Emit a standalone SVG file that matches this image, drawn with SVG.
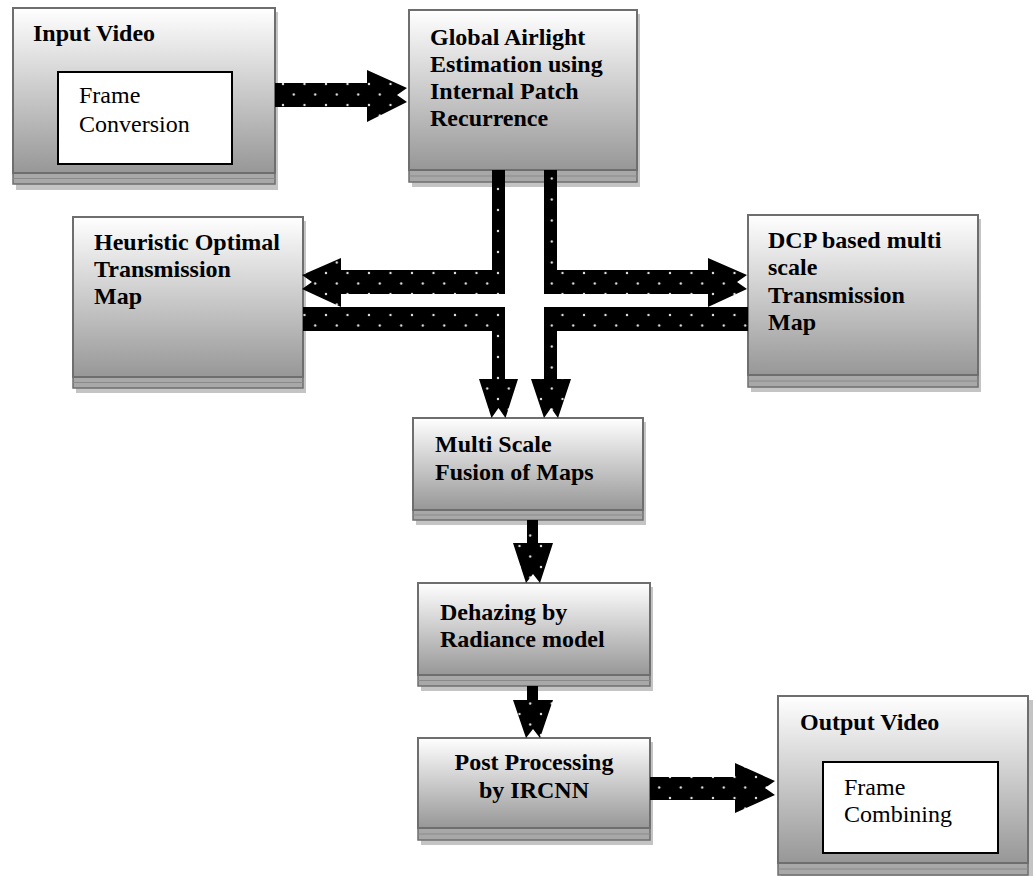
<svg xmlns="http://www.w3.org/2000/svg" width="1033" height="876" viewBox="0 0 1033 876">
<defs>
<linearGradient id="g" x1="0" y1="0" x2="0" y2="1">
<stop offset="0" stop-color="#ffffff"/>
<stop offset="1" stop-color="#979797"/>
</linearGradient>
<pattern id="dots" patternUnits="userSpaceOnUse" width="21.5" height="21" x="283" y="84">
<rect width="21.5" height="21" fill="#000"/>
<circle cx="0" cy="0" r="1.2" fill="#ddd"/>
<circle cx="21.5" cy="0" r="1.2" fill="#ddd"/>
<circle cx="0" cy="21" r="1.2" fill="#ddd"/>
<circle cx="21.5" cy="21" r="1.2" fill="#ddd"/>
<circle cx="10.75" cy="10.5" r="1.2" fill="#ddd"/>
</pattern>
</defs>
<style>
.main{fill:url(#g);stroke:#6e6e6e;stroke-width:2}
.strip{fill:#a8a8a8;stroke:#6e6e6e;stroke-width:1.5}
.shadow{fill:#c4c4c4}
.inner{fill:#fff;stroke:#000;stroke-width:2}
.b{font-family:"Liberation Serif","Times New Roman",serif;font-weight:bold;font-size:24px;fill:#000}
.r{font-family:"Liberation Serif","Times New Roman",serif;font-size:24px;fill:#000}
.arr{fill:url(#dots);stroke:none}
</style>
<rect width="1033" height="876" fill="#fff"/>

<g id="input-video">
<rect class="shadow" x="16" y="12" width="262" height="178"/>
<rect class="strip" x="13" y="173" width="262" height="11"/>
<line x1="13" y1="178.5" x2="275" y2="178.5" stroke="#8a8a8a" stroke-width="1"/>
<rect class="main" x="13" y="8" width="262" height="165"/>
<text class="b" x="33" y="41">Input Video</text>
<rect class="inner" x="58" y="72" width="174" height="92"/>
<text class="r" x="79" y="103">Frame</text>
<text class="r" x="79" y="132">Conversion</text>
</g>

<g id="global-airlight">
<rect class="shadow" x="412" y="14" width="228" height="173"/>
<rect class="strip" x="409" y="170" width="228" height="12"/>
<line x1="409" y1="176" x2="637" y2="176" stroke="#8a8a8a" stroke-width="1"/>
<rect class="main" x="409" y="10" width="228" height="160"/>
<text class="b" x="430" y="45">Global Airlight</text>
<text class="b" x="430" y="72">Estimation using</text>
<text class="b" x="430" y="99">Internal Patch</text>
<text class="b" x="430" y="126">Recurrence</text>
</g>

<g id="heuristic">
<rect class="shadow" x="76" y="221" width="230" height="172"/>
<rect class="strip" x="73" y="377" width="230" height="11"/>
<line x1="73" y1="382.5" x2="303" y2="382.5" stroke="#8a8a8a" stroke-width="1"/>
<rect class="main" x="73" y="217" width="230" height="160"/>
<text class="b" x="94" y="250">Heuristic Optimal</text>
<text class="b" x="94" y="277">Transmission</text>
<text class="b" x="94" y="304">Map</text>
</g>

<g id="dcp">
<rect class="shadow" x="751" y="219" width="230" height="173"/>
<rect class="strip" x="748" y="375" width="230" height="12"/>
<line x1="748" y1="381" x2="978" y2="381" stroke="#8a8a8a" stroke-width="1"/>
<rect class="main" x="748" y="215" width="230" height="160"/>
<text class="b" x="768" y="248">DCP based multi</text>
<text class="b" x="768" y="275">scale</text>
<text class="b" x="768" y="303">Transmission</text>
<text class="b" x="768" y="330">Map</text>
</g>

<g id="fusion">
<rect class="shadow" x="416" y="422" width="230" height="103"/>
<rect class="strip" x="413" y="510" width="230" height="10"/>
<line x1="413" y1="515" x2="643" y2="515" stroke="#8a8a8a" stroke-width="1"/>
<rect class="main" x="413" y="418" width="230" height="92"/>
<text class="b" x="435" y="452">Multi Scale</text>
<text class="b" x="435" y="480">Fusion of Maps</text>
</g>

<g id="dehazing">
<rect class="shadow" x="421" y="587" width="232" height="104"/>
<rect class="strip" x="418" y="675" width="232" height="11"/>
<line x1="418" y1="680.5" x2="650" y2="680.5" stroke="#8a8a8a" stroke-width="1"/>
<rect class="main" x="418" y="583" width="232" height="92"/>
<text class="b" x="440" y="620">Dehazing by</text>
<text class="b" x="440" y="647">Radiance model</text>
</g>

<g id="post-processing">
<rect class="shadow" x="421" y="742" width="232" height="103"/>
<rect class="strip" x="418" y="828" width="232" height="12"/>
<line x1="418" y1="834" x2="650" y2="834" stroke="#8a8a8a" stroke-width="1"/>
<rect class="main" x="418" y="738" width="232" height="90"/>
<text class="b" x="534" y="770" text-anchor="middle">Post Processing</text>
<text class="b" x="534" y="798" text-anchor="middle">by IRCNN</text>
</g>

<g id="output-video">
<rect class="shadow" x="781" y="700" width="252" height="176"/>
<rect class="strip" x="778" y="863" width="250" height="12"/>
<line x1="778" y1="869" x2="1028" y2="869" stroke="#8a8a8a" stroke-width="1"/>
<rect class="main" x="778" y="696" width="250" height="167"/>
<text class="b" x="800" y="730">Output Video</text>
<rect class="inner" x="823" y="762" width="175" height="91"/>
<text class="r" x="844" y="795">Frame</text>
<text class="r" x="844" y="822">Combining</text>
</g>

<g id="connectors">
<!-- Input -> Global -->
<polygon class="arr" points="275,83 367,83 367,70 407,88 397,95 407,102 367,122 367,107 275,107"/>
<!-- Global -> Heuristic -->
<polygon class="arr" points="492,170 505,170 505,294 341,294 341,307 302,289 312,282 302,275 341,258 341,270 492,270"/>
<!-- Global -> DCP -->
<polygon class="arr" points="557,170 544,170 544,294 708,294 708,307 747,289 737,282 747,275 708,258 708,270 557,270"/>
<!-- Heuristic -> Fusion -->
<polygon class="arr" points="303,307 505,307 505,379 518,379 505.5,418 498.5,408 491.5,418 479,379 492,379 492,331 303,331"/>
<!-- DCP -> Fusion -->
<polygon class="arr" points="748,307 544,307 544,379 531,379 544,418 551,408 558,418 571,379 557,379 557,331 748,331"/>
<!-- Fusion -> Dehazing -->
<polygon class="arr" points="527,520 538,520 538,543 553,543 540,583 533,574 526,583 513,543 527,543"/>
<!-- Dehazing -> Post -->
<polygon class="arr" points="527,686 538,686 538,700 553,700 540,738 533,729 526,738 513,700 527,700"/>
<!-- Post -> Output -->
<polygon class="arr" points="650,777 735,777 735,763 775,781 765,788 775,795 735,813 735,800 650,800"/>
</g>
</svg>
